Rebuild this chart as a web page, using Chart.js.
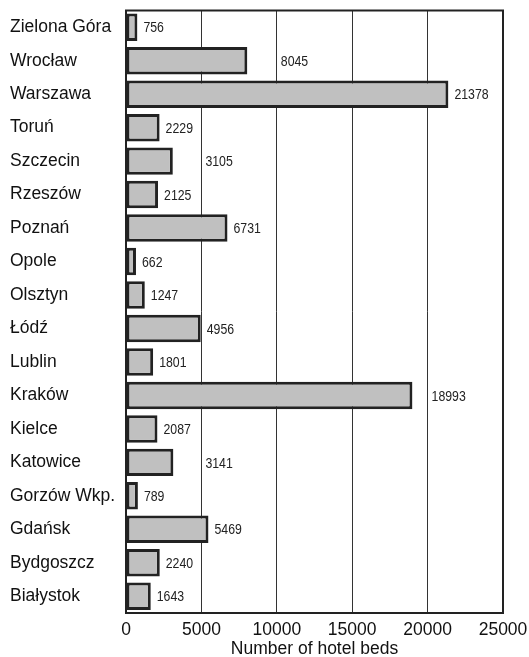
<!DOCTYPE html>
<html>
<head>
<meta charset="utf-8">
<script src="https://cdn.jsdelivr.net/npm/chart.js@4"></script>
<style>
  html, body { margin: 0; padding: 0; background: #fff; }
  #wrap { width: 529px; height: 657px; }
</style>
</head>
<body>
<div id="wrap"><canvas id="chart"></canvas></div>
<script>
const cities = ['Zielona Góra', 'Wrocław', 'Warszawa', 'Toruń', 'Szczecin', 'Rzeszów', 'Poznań', 'Opole',
    'Olsztyn', 'Łódź', 'Lublin', 'Kraków', 'Kielce', 'Katowice', 'Gorzów Wkp.', 'Gdańsk', 'Bydgoszcz', 'Białystok'];
const beds = [756, 8045, 21378, 2229, 3105, 2125, 6731, 662, 1247, 4956, 1801, 18993, 2087, 3141, 789, 5469, 2240, 1643];
const xTicks = [0, 5000, 10000, 15000, 20000, 25000];
const axisTitle = 'Number of hotel beds';

const valueFont = "15px 'Liberation Sans', Arial, sans-serif";
const squeeze = 0.82; // the value labels use a condensed face

// frame round the plot area
const frame = {
    id: 'frame',
    afterDatasetsDraw(chart) {
        const { ctx, chartArea: a } = chart;
        ctx.save();
        ctx.strokeStyle = '#222';
        ctx.lineWidth = 2;
        ctx.strokeRect(a.left, a.top, a.right - a.left, a.bottom - a.top);
        ctx.restore();
    }
};

// value labels, pushed past a gridline when they would sit on it
const valueLabels = {
    id: 'valueLabels',
    afterDatasetsDraw(chart) {
        const { ctx } = chart;
        const xs = chart.scales.x;
        const grid = xTicks.map(t => xs.getPixelForValue(t));
        ctx.save();
        ctx.font = valueFont;
        ctx.fillStyle = '#222';
        ctx.textBaseline = 'middle';
        chart.getDatasetMeta(0).data.forEach((bar, i) => {
            const txt = String(beds[i]);
            const w = ctx.measureText(txt).width * squeeze;
            let x = bar.x + 6;
            grid.forEach(g => {
                if (g > x - 2 && g < x + w + 2) x = g + 4;
            });
            ctx.save();
            ctx.translate(x, bar.y + 1);
            ctx.scale(squeeze, 1);
            ctx.fillText(txt, 0, 0);
            ctx.restore();
        });
        ctx.restore();
    }
};

new Chart(document.getElementById('chart'), {
    type: 'bar',
    data: {
        labels: cities,
        datasets: [{
            data: beds,
            backgroundColor: '#c0c0c0',
            borderColor: '#222',
            borderWidth: 3,
            borderSkipped: false,
            barPercentage: 0.82,
            categoryPercentage: 1
        }]
    },
    options: {
        indexAxis: 'y',
        responsive: true,
        maintainAspectRatio: false,
        animation: false,
        layout: { padding: { left: 10, right: 26, top: 10, bottom: 0 } },
        plugins: { legend: { display: false }, tooltip: { enabled: false } },
        scales: {
            x: {
                min: 0,
                max: 25000,
                afterBuildTicks: scale => { scale.ticks = xTicks.map(v => ({ value: v })); },
                afterFit: scale => {
                    scale.height = 44;
                    scale.paddingLeft = 0;
                    scale.paddingRight = 0;
                },
                grid: { color: '#333', lineWidth: 1, drawTicks: false },
                border: { display: false },
                ticks: {
                    color: '#111',
                    padding: 7,
                    maxRotation: 0,
                    callback: v => String(v),
                    font: { family: 'Arial, Liberation Sans, sans-serif', size: 17.5 }
                },
                title: {
                    display: true,
                    text: axisTitle,
                    color: '#111',
                    padding: { top: 0, bottom: -3 },
                    font: { family: 'Arial, Liberation Sans, sans-serif', size: 17.5 }
                }
            },
            y: {
                afterFit: scale => { scale.width = 116; },
                grid: { display: false, drawTicks: false },
                border: { display: false },
                ticks: {
                    color: '#111',
                    crossAlign: 'far',
                    padding: 0,
                    autoSkip: false,
                    font: { family: 'Arial, Liberation Sans, sans-serif', size: 17.5 }
                }
            }
        }
    },
    plugins: [frame, valueLabels]
});
</script>
</body>
</html>
